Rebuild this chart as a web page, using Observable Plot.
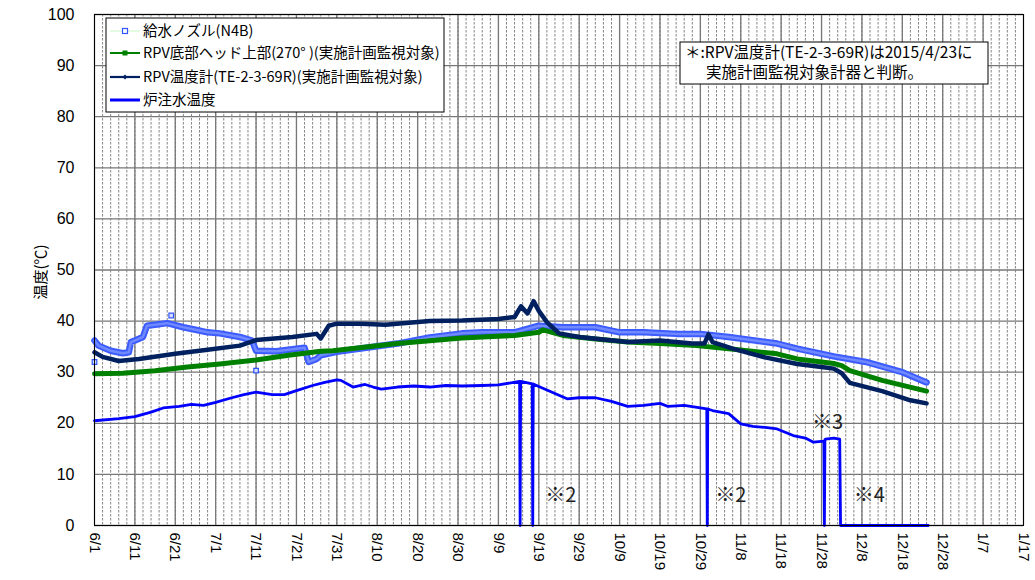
<!DOCTYPE html>
<html><head><meta charset="utf-8">
<script src="https://cdn.jsdelivr.net/npm/d3@7"></script>
<script src="https://cdn.jsdelivr.net/npm/@observablehq/plot@0.6"></script>
<style>body{margin:0;background:#fff;}</style>
</head><body><div id="chart"></div>
<script>
// ---- series names ----
const seriesNames = ["給水ノズル(N4B)", "RPV底部ヘッド上部(270° )(実施計画監視対象)", "RPV温度計(TE-2-3-69R)(実施計画監視対象)", "炉注水温度"];

// ---- 給水ノズル(N4B) ----
const nozzleDates = ["2015-06-01","2015-06-02","2015-06-05","2015-06-08","2015-06-09T12:00","2015-06-10","2015-06-11","2015-06-13","2015-06-14","2015-06-16","2015-06-19","2015-06-23","2015-06-26","2015-06-29","2015-07-02","2015-07-07","2015-07-10","2015-07-11","2015-07-16","2015-07-19","2015-07-23","2015-07-24","2015-07-26","2015-07-27","2015-07-31","2015-08-15","2015-08-23","2015-08-31","2015-09-05","2015-09-13","2015-09-19","2015-09-25","2015-10-03","2015-10-09","2015-10-15","2015-10-23","2015-10-29","2015-11-05","2015-11-17","2015-11-22","2015-12-01","2015-12-09","2015-12-18","2015-12-24"];
const nozzleValues = [36.2,35.2,34.2,33.7,33.9,35.9,36.2,36.9,39.1,39.3,39.6,38.8,38.3,37.8,37.6,36.9,36.2,34.2,34.1,34.4,34.8,32.0,32.6,33.3,34.0,35.6,36.8,37.6,37.8,37.8,39.1,38.8,38.8,37.8,37.8,37.5,37.5,36.9,35.6,34.6,33.1,32.0,30.0,28.0];
const nozzleOutlierDates = ["2015-06-01","2015-06-20","2015-07-11"];
const nozzleOutlierValues = [32.0,41.1,30.3];

// ---- RPV底部ヘッド上部 ----
const bottomDates = ["2015-06-01","2015-06-08","2015-06-16","2015-06-24","2015-07-02","2015-07-11","2015-07-19","2015-07-27","2015-07-30","2015-08-15","2015-08-31","2015-09-05","2015-09-13","2015-09-19","2015-09-20","2015-09-25","2015-10-03","2015-10-11","2015-10-19","2015-10-28","2015-11-05","2015-11-17","2015-11-22","2015-11-28","2015-12-01","2015-12-03","2015-12-05","2015-12-13","2015-12-24"];
const bottomValues = [29.7,29.8,30.3,31.0,31.6,32.4,33.3,34.1,34.2,35.6,36.7,36.9,37.2,37.8,38.3,37.2,36.5,35.9,35.6,35.2,34.6,33.6,32.6,32.0,31.7,31.3,30.3,28.4,26.3];

// ---- RPV温度計(TE-2-3-69R) ----
const rpvDates = ["2015-06-01","2015-06-03","2015-06-07","2015-06-12","2015-06-21","2015-06-29","2015-07-07","2015-07-11","2015-07-20","2015-07-26","2015-07-27","2015-07-29","2015-07-31","2015-08-06","2015-08-12","2015-08-23","2015-08-31","2015-09-09","2015-09-13","2015-09-14T14:00","2015-09-16T05:00","2015-09-17T17:00","2015-09-19","2015-09-21","2015-09-24","2015-09-29","2015-10-11","2015-10-19","2015-10-27","2015-10-30","2015-10-31","2015-11-01","2015-11-06","2015-11-14","2015-11-22","2015-11-28","2015-12-01","2015-12-03","2015-12-05","2015-12-13","2015-12-20","2015-12-24"];
const rpvValues = [33.9,33.0,32.2,32.6,33.6,34.4,35.2,36.3,36.9,37.5,36.6,39.1,39.5,39.5,39.3,40.0,40.1,40.4,40.8,42.9,41.5,43.9,42.0,39.8,37.6,36.9,35.9,36.2,35.6,35.6,37.4,35.9,34.6,32.9,31.6,31.0,30.7,29.8,27.9,26.3,24.5,23.9];

// ---- 炉注水温度 ----
const injDates = ["2015-06-01","2015-06-07","2015-06-11","2015-06-15","2015-06-18","2015-06-22","2015-06-25","2015-06-28","2015-07-01","2015-07-05","2015-07-08","2015-07-11","2015-07-15","2015-07-18","2015-07-21","2015-07-25","2015-07-28","2015-07-31","2015-08-01","2015-08-04","2015-08-07","2015-08-09","2015-08-11","2015-08-15","2015-08-19","2015-08-23","2015-08-27","2015-08-31","2015-09-05","2015-09-09","2015-09-14T06:00","2015-09-14T09:00","2015-09-14T12:00","2015-09-17T09:00","2015-09-17T12:00","2015-09-17T15:00","2015-09-19","2015-09-26","2015-09-29","2015-10-03","2015-10-07","2015-10-11","2015-10-15","2015-10-19","2015-10-21","2015-10-25","2015-10-30T14:00","2015-10-30T17:00","2015-10-30T20:00","2015-11-01","2015-11-05","2015-11-08","2015-11-11","2015-11-14","2015-11-17","2015-11-21","2015-11-24","2015-11-26","2015-11-28T14:00","2015-11-28T17:00","2015-11-28T20:00","2015-11-29","2015-12-01","2015-12-02T12:00","2015-12-02T17:00","2015-12-24T10:00"];
const injValues = [20.5,20.9,21.3,22.2,23.0,23.3,23.7,23.5,24.1,25.0,25.6,26.1,25.6,25.6,26.4,27.4,28.0,28.5,28.4,27.1,27.6,27.1,26.7,27.1,27.3,27.1,27.4,27.3,27.4,27.5,28.2,0,28.2,27.7,0,27.7,27.2,24.8,25.0,25.0,24.3,23.3,23.5,23.9,23.3,23.5,22.8,0,22.8,22.5,21.9,19.9,19.4,19.2,18.9,17.6,17.1,16.3,16.5,0,16.8,16.9,17.1,16.9,0,0];

// ---- notes ----
const noteLabels = ["※2","※2","※3","※4"];
const noteDates = ["2015-09-20T14:00","2015-11-01T16:00","2015-11-25T16:00","2015-12-06T00:00"];
const noteValues = [5.9,5.9,20.2,5.9];

// ---- axes ----
const xTickLabels = ["6/1","6/11","6/21","7/1","7/11","7/21","7/31","8/10","8/20","8/30","9/9","9/19","9/29","10/9","10/19","10/29","11/8","11/18","11/28","12/8","12/18","12/28","1/7","1/17"];
const yTicks = [0,10,20,30,40,50,60,70,80,90,100];

const P = s => new Date(s.length === 10 ? s + "T00:00:00Z" : s + ":00Z");
const tickDate = lab => { const [m, d] = lab.split("/").map(Number); return new Date(Date.UTC(m >= 6 ? 2015 : 2016, m - 1, d)); };
const xTicks = xTickLabels.map(tickDate);
const labelOf = new Map(xTicks.map((t, i) => [+t, xTickLabels[i]]));
const x0 = xTicks[0], x1 = xTicks[xTicks.length - 1];
const minorTicks = d3.range(0, 231, 2).map(k => d3.utcDay.offset(x0, k));

const zip = (ds, vs) => ds.map((d, i) => ({date: P(d), value: vs[i]}));
const nozzle = zip(nozzleDates, nozzleValues);
const nozzleOut = zip(nozzleOutlierDates, nozzleOutlierValues);
const bottom = zip(bottomDates, bottomValues);
const rpv = zip(rpvDates, rpvValues);
const inj = zip(injDates, injValues);
const notes = noteLabels.map((t, i) => ({text: t, date: P(noteDates[i]), value: noteValues[i]}));

const chart = Plot.plot({
  width: 1035, height: 580,
  marginLeft: 94, marginRight: 12, marginTop: 14, marginBottom: 55,
  style: {fontFamily: "'Liberation Sans', 'Noto Sans CJK JP', sans-serif", fontSize: "15px", color: "#000", background: "#fff"},
  x: {type: "utc", domain: [x0, x1]},
  y: {domain: [0, 100]},
  marks: [
    Plot.ruleX(minorTicks, {stroke: "#222", strokeWidth: 0.7, strokeDasharray: "2.5,1.5", strokeOpacity: 0.8}),
    Plot.ruleX(xTicks, {stroke: "#777", strokeWidth: 1.3}),
    Plot.ruleY(yTicks, {stroke: "#777", strokeWidth: 1.3}),
    Plot.line(nozzle, {x: "date", y: "value", stroke: "#3d5cff", strokeWidth: 6.5}),
    Plot.line(nozzle, {x: "date", y: "value", stroke: "#7089ff", strokeWidth: 2.5}),
    Plot.dot(nozzleOut, {x: "date", y: "value", symbol: "square", r: 2.6, stroke: "#3355ff", fill: "#d6ddff", strokeWidth: 1.2}),
    Plot.line(bottom, {x: "date", y: "value", stroke: "#008000", strokeWidth: 5}),
    Plot.line(rpv, {x: "date", y: "value", stroke: "#002060", strokeWidth: 4.5}),
    Plot.line(inj, {x: "date", y: "value", stroke: "#0000ff", strokeWidth: 2.8}),
    Plot.text(notes, {x: "date", y: "value", text: "text", textAnchor: "start", fontSize: 20, fill: "#222", fontFamily: "'Noto Sans CJK JP', sans-serif"}),
    Plot.frame({stroke: "#000", strokeWidth: 1}),
    Plot.axisY({ticks: yTicks, tickSize: 0, tickPadding: 20, label: null, fontSize: 16}),
    Plot.axisX({ticks: xTicks, tickFormat: d => labelOf.get(+d), tickRotate: 90, tickSize: 0, tickPadding: 7, label: null, fontSize: 15})
  ]
});
document.getElementById("chart").appendChild(chart);

const svg = d3.select(chart);
const cjk = "'Noto Sans CJK JP', sans-serif";
// y title
svg.append("text").attr("transform", "translate(46,272) rotate(-90)").attr("text-anchor", "middle")
  .attr("font-family", cjk).attr("font-size", 15).attr("fill", "#000").text("温度(℃)");

// legend
const lg = svg.append("g").attr("text-anchor", "start");
lg.append("rect").attr("x", 106).attr("y", 18).attr("width", 338).attr("height", 94).attr("fill", "#fff").attr("stroke", "#000");
const rows = [31, 53, 77, 100];
const lineCol = ["#c8f5c8", "#008000", "#002060", "#0000ff"];
const lineW = [1, 2, 2.2, 3];
rows.forEach((yy, i) => {
  lg.append("line").attr("x1", 110).attr("x2", 140).attr("y1", yy).attr("y2", yy).attr("stroke", lineCol[i]).attr("stroke-width", lineW[i]);
  if (i === 0) lg.append("rect").attr("x", 122.5).attr("y", yy - 2.5).attr("width", 5).attr("height", 5).attr("fill", "#fff").attr("stroke", "#3355ff").attr("stroke-width", 1.2);
  if (i === 1) lg.append("rect").attr("x", 122.5).attr("y", yy - 2.5).attr("width", 5).attr("height", 5).attr("fill", "#008000");
  if (i === 2) lg.append("path").attr("d", `M125,${yy-2.5}L127.5,${yy}L125,${yy+2.5}L122.5,${yy}Z`).attr("fill", "#002060");
  lg.append("text").attr("x", 143).attr("y", yy).attr("dy", "0.36em").attr("text-anchor", "start").attr("font-family", cjk).attr("font-size", 14.5).attr("fill", "#000").text(seriesNames[i]);
});

// note box
const nb = svg.append("g").attr("text-anchor", "start");
nb.append("rect").attr("x", 680).attr("y", 42).attr("width", 308).attr("height", 42).attr("fill", "#fff").attr("stroke", "#000");
nb.append("text").attr("x", 685).attr("y", 52).attr("dy", "0.36em").attr("text-anchor", "start").attr("font-family", cjk).attr("font-size", 15.5).attr("fill", "#000").text("＊:RPV温度計(TE-2-3-69R)は2015/4/23に");
nb.append("text").attr("x", 706).attr("y", 72).attr("dy", "0.36em").attr("text-anchor", "start").attr("font-family", cjk).attr("font-size", 15.5).attr("fill", "#000").text("実施計画監視対象計器と判断。");
</script>
</body></html>
